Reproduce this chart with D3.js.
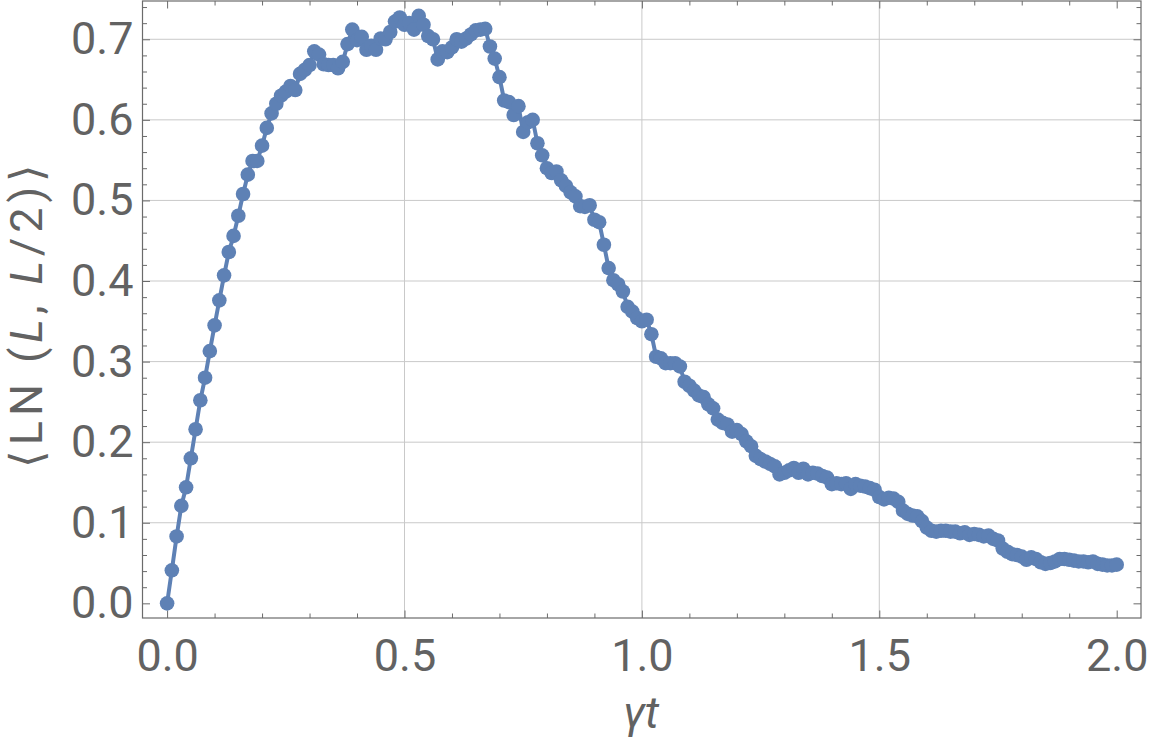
<!DOCTYPE html>
<html>
<head>
<meta charset="utf-8">
<script src="https://cdn.jsdelivr.net/npm/d3@7"></script>
<style>
  html, body { margin: 0; padding: 0; background: #ffffff; }
  svg { display: block; }
</style>
</head>
<body>
<svg id="chart" width="1152" height="754"></svg>
<script>
// ---------------- data ----------------
const timeStep = 0.01;           // γt spacing of the samples
const riseValues = [
  0.000, 0.041, 0.083, 0.121, 0.144, 0.180, 0.216, 0.252, 0.280, 0.313,
  0.345, 0.376, 0.407, 0.436, 0.456, 0.481, 0.508, 0.532, 0.549, 0.549,
  0.568, 0.590, 0.608, 0.620, 0.630, 0.635, 0.642, 0.637, 0.657, 0.662,
  0.668, 0.685, 0.681, 0.669, 0.668, 0.668, 0.664, 0.672, 0.694, 0.712
];
const peakValues = [
  0.699, 0.703, 0.687, 0.692, 0.687, 0.701, 0.700, 0.709, 0.722, 0.727,
  0.718, 0.720, 0.712, 0.729, 0.718, 0.704, 0.700, 0.675, 0.685, 0.684,
  0.690, 0.700, 0.697, 0.701, 0.706, 0.711, 0.712, 0.713
];
const fallValues = [
  0.691, 0.676, 0.653, 0.624, 0.622, 0.606, 0.617, 0.585, 0.597, 0.600,
  0.571, 0.556, 0.540, 0.534, 0.536, 0.525, 0.518, 0.510, 0.505, 0.493,
  0.492, 0.494, 0.476, 0.473, 0.445, 0.416, 0.401, 0.396, 0.387, 0.368,
  0.362, 0.354, 0.350, 0.352, 0.334, 0.306, 0.304, 0.298, 0.298, 0.298,
  0.294, 0.275, 0.270, 0.264, 0.258, 0.256, 0.247, 0.242, 0.228, 0.224,
  0.222, 0.213, 0.215, 0.210, 0.201, 0.195, 0.183, 0.179, 0.176, 0.173,
  0.170, 0.160
];
const tailValues = [
  0.162, 0.165, 0.168, 0.162, 0.167, 0.160, 0.162, 0.161, 0.158, 0.156,
  0.148, 0.149, 0.148, 0.149, 0.142, 0.148, 0.146, 0.145, 0.143, 0.141,
  0.132, 0.129, 0.131, 0.130, 0.126, 0.115, 0.111, 0.109, 0.108, 0.102,
  0.094, 0.090, 0.089, 0.090, 0.090, 0.089, 0.089, 0.087, 0.088, 0.085,
  0.086, 0.085, 0.083, 0.084, 0.080, 0.078, 0.068, 0.064, 0.061, 0.060,
  0.058, 0.054, 0.057, 0.055, 0.051, 0.049, 0.050, 0.052, 0.055, 0.055,
  0.054, 0.053, 0.052, 0.052, 0.051, 0.052, 0.049, 0.048, 0.047, 0.047,
  0.048
];
const xTickLabels = ["0.0", "0.5", "1.0", "1.5", "2.0"];
const yTickLabels = ["0.0", "0.1", "0.2", "0.3", "0.4", "0.5", "0.6", "0.7"];
const xMajor = [0, 0.5, 1.0, 1.5, 2.0];
const yMajor = [0, 0.1, 0.2, 0.3, 0.4, 0.5, 0.6, 0.7];
const xGrid = [0.5, 1.0, 1.5];
const yGrid = [0.1, 0.2, 0.3, 0.4, 0.5, 0.6, 0.7];

const values = riseValues.concat(peakValues, fallValues, tailValues);
const data = values.map((v, i) => ({ t: +(i * timeStep).toFixed(2), v }));

// ---------------- layout ----------------
const svg = d3.select("#chart");
const box = { left: 142.5, right: 1141, top: 1, bottom: 618 };
const x = d3.scaleLinear().domain([-0.0518, 2.0512]).range([box.left, box.right]);
const y = d3.scaleLinear().domain([-0.0182, 0.7475]).range([box.bottom, box.top]);

const frameColor = "#6b6b6b";
const gridColor = "#c9c9c9";
const textColor = "#626262";
const seriesColor = "#5e81b5";

// grid
const grid = svg.append("g");
grid.selectAll("line.gx").data(xGrid).join("line")
  .attr("x1", d => x(d)).attr("x2", d => x(d))
  .attr("y1", box.top).attr("y2", box.bottom)
  .attr("stroke", gridColor).attr("stroke-width", 1);
grid.selectAll("line.gy").data(yGrid).join("line")
  .attr("y1", d => y(d)).attr("y2", d => y(d))
  .attr("x1", box.left).attr("x2", box.right)
  .attr("stroke", gridColor).attr("stroke-width", 1);

// axes with inward ticks on all four sides
const xMinor = d3.range(0, 2.0001, 0.1).filter(v => xMajor.every(m => Math.abs(m - v) > 1e-6));
const yMinor = d3.range(0, 0.7401, 0.02).filter(v => yMajor.every(m => Math.abs(m - v) > 1e-6));
const fontFam = "Roboto, 'Open Sans', sans-serif";

function styleAxis(g) {
  g.select(".domain").remove();
  g.selectAll("line").attr("stroke", frameColor).attr("stroke-width", 1);
  g.selectAll("text").attr("fill", textColor).attr("font-family", fontFam).attr("font-size", 45);
}

// bottom
svg.append("g").attr("transform", `translate(0,${box.bottom})`)
  .call(d3.axisBottom(x).tickValues(xMajor).tickSize(-7.5).tickPadding(21)
    .tickFormat((d, i) => xTickLabels[i]))
  .call(styleAxis);
svg.append("g").attr("transform", `translate(0,${box.bottom})`)
  .call(d3.axisBottom(x).tickValues(xMinor).tickSize(-4.5).tickFormat(""))
  .call(styleAxis);
// top
svg.append("g").attr("transform", `translate(0,${box.top})`)
  .call(d3.axisTop(x).tickValues(xMajor).tickSize(-7.5).tickFormat(""))
  .call(styleAxis);
svg.append("g").attr("transform", `translate(0,${box.top})`)
  .call(d3.axisTop(x).tickValues(xMinor).tickSize(-4.5).tickFormat(""))
  .call(styleAxis);
// left
svg.append("g").attr("transform", `translate(${box.left},0)`)
  .call(d3.axisLeft(y).tickValues(yMajor).tickSize(-7.5).tickPadding(9)
    .tickFormat((d, i) => yTickLabels[i]))
  .call(styleAxis);
svg.append("g").attr("transform", `translate(${box.left},0)`)
  .call(d3.axisLeft(y).tickValues(yMinor).tickSize(-4.5).tickFormat(""))
  .call(styleAxis);
// right
svg.append("g").attr("transform", `translate(${box.right},0)`)
  .call(d3.axisRight(y).tickValues(yMajor).tickSize(-7.5).tickFormat(""))
  .call(styleAxis);
svg.append("g").attr("transform", `translate(${box.right},0)`)
  .call(d3.axisRight(y).tickValues(yMinor).tickSize(-4.5).tickFormat(""))
  .call(styleAxis);

// frame
svg.append("rect")
  .attr("x", box.left).attr("y", box.top)
  .attr("width", box.right - box.left).attr("height", box.bottom - box.top)
  .attr("fill", "none").attr("stroke", frameColor).attr("stroke-width", 1.2);

// series
svg.append("path").datum(data)
  .attr("fill", "none").attr("stroke", seriesColor).attr("stroke-width", 4)
  .attr("stroke-linejoin", "round")
  .attr("d", d3.line().x(d => x(d.t)).y(d => y(d.v)));
svg.append("g").selectAll("circle").data(data).join("circle")
  .attr("cx", d => x(d.t)).attr("cy", d => y(d.v)).attr("r", 7.3)
  .attr("fill", seriesColor);

// axis titles
const xTitle = svg.append("text")
  .attr("x", 641).attr("y", 728).attr("text-anchor", "middle")
  .attr("font-family", fontFam).attr("font-size", 45).attr("font-style", "italic")
  .attr("fill", textColor);
xTitle.append("tspan").text("γ");
xTitle.append("tspan").text("t");

const yTitle = svg.append("text")
  .attr("transform", "translate(42,316) rotate(-90)")
  .attr("text-anchor", "middle")
  .attr("font-family", fontFam).attr("font-size", 45)
  .attr("textLength", 304).attr("lengthAdjust", "spacing")
  .attr("fill", textColor);
yTitle.append("tspan").text("⟨LN (");
yTitle.append("tspan").attr("font-style", "italic").text("L");
yTitle.append("tspan").text(", ");
yTitle.append("tspan").attr("font-style", "italic").text("L");
yTitle.append("tspan").text("/2)⟩");
</script>
</body>
</html>
